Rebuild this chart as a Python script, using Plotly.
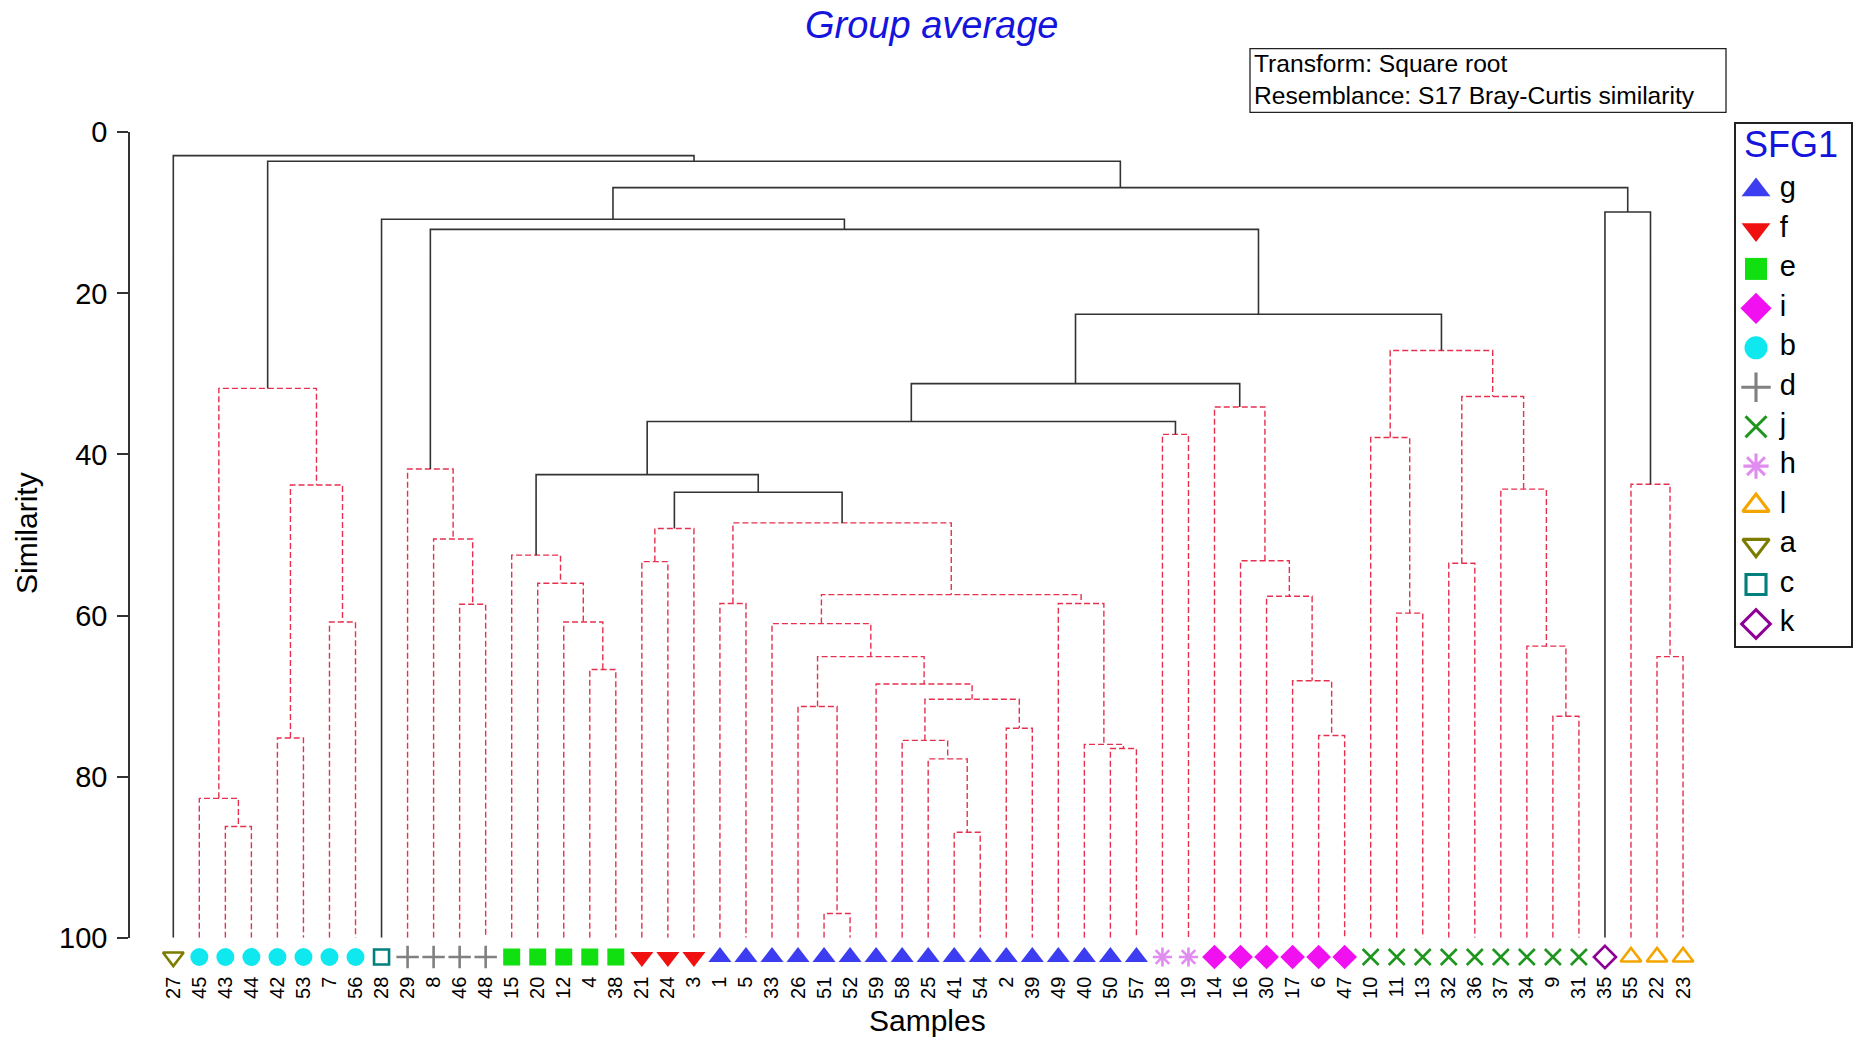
import plotly.graph_objects as go

# ---------------- data ----------------
SAMPLES = ["27", "45", "43", "44", "42", "53", "7", "56", "28", "29", "8", "46", "48",
           "15", "20", "12", "4", "38", "21", "24", "3", "1", "5", "33", "26", "51", "52",
           "59", "58", "25", "41", "54", "2", "39", "49", "40", "50", "57", "18", "19",
           "14", "16", "30", "17", "6", "47", "10", "11", "13", "32", "36", "37", "34",
           "9", "31", "35", "55", "22", "23"]
SAMPLE_GROUPS = ["a", "b", "b", "b", "b", "b", "b", "b", "c", "d", "d", "d", "d",
                 "e", "e", "e", "e", "e", "f", "f", "f", "g", "g", "g", "g", "g", "g",
                 "g", "g", "g", "g", "g", "g", "g", "g", "g", "g", "g", "h", "h",
                 "i", "i", "i", "i", "i", "i", "j", "j", "j", "j", "j", "j", "j",
                 "j", "j", "k", "l", "l", "l"]

# merges: (left child, right child, similarity); "nK" refers to the K-th merge
MERGES = [
    ("43", "44", 86.2), ("45", "n0", 82.7), ("42", "53", 75.2), ("7", "56", 60.8),
    ("n2", "n3", 43.8), ("n1", "n4", 31.8),                                   # b
    ("46", "48", 58.6), ("8", "n6", 50.5), ("29", "n7", 41.8),                # d
    ("4", "38", 66.7), ("12", "n9", 60.8), ("20", "n10", 56.0), ("15", "n11", 52.5),  # e
    ("21", "24", 53.3), ("n13", "3", 49.2),                                   # f
    ("1", "5", 58.5), ("51", "52", 97.0), ("26", "n16", 71.3), ("41", "54", 86.9),
    ("25", "n18", 77.8), ("58", "n19", 75.5), ("2", "39", 74.0), ("n20", "n21", 70.4),
    ("59", "n22", 68.5), ("n17", "n23", 65.1), ("33", "n24", 61.0), ("50", "57", 76.5),
    ("40", "n26", 76.0), ("49", "n27", 58.5), ("n25", "n28", 57.4), ("n15", "n29", 48.5),  # g
    ("18", "19", 37.5),                                                       # h
    ("6", "47", 74.9), ("17", "n32", 68.1), ("30", "n33", 57.6), ("16", "n34", 53.2),
    ("14", "n35", 34.1),                                                      # i
    ("11", "13", 59.7), ("10", "n37", 37.9), ("32", "36", 53.5), ("9", "31", 72.5),
    ("34", "n40", 63.8), ("37", "n41", 44.3), ("n39", "n42", 32.8), ("n38", "n43", 27.1),  # j
    ("22", "23", 65.1), ("55", "n45", 43.7),                                  # l
    ("n14", "n30", 44.7), ("n12", "n47", 42.5), ("n48", "n31", 35.9), ("n49", "n36", 31.2),
    ("n50", "n44", 22.6), ("n8", "n51", 12.05), ("28", "n52", 10.8), ("35", "n46", 9.9),
    ("n53", "n54", 6.87), ("n5", "n55", 3.6), ("27", "n56", 2.9),
]

LEGEND_ORDER = ["g", "f", "e", "i", "b", "d", "j", "h", "l", "a", "c", "k"]
Y_TICKS = [0, 20, 40, 60, 80, 100]

# ---------------- styles ----------------
GROUP_STYLE = {
    "g": dict(symbol="triangle-up", color="#3C3CF0", size=20),
    "f": dict(symbol="triangle-down", color="#F01010", size=20),
    "e": dict(symbol="square", color="#10E010", size=17),
    "i": dict(symbol="diamond", color="#F010F0", size=19),
    "b": dict(symbol="circle", color="#10E8F0", size=18),
    "d": dict(symbol="cross-thin", color="#808080", size=16),
    "j": dict(symbol="x-thin", color="#1E961E", size=16),
    "h": dict(symbol="asterisk", color="#E08CF0", size=16),
    "l": dict(symbol="triangle-up-open", color="#F5A500", size=18),
    "a": dict(symbol="triangle-down-open", color="#7C7C00", size=18),
    "c": dict(symbol="square-open", color="#00807C", size=15),
    "k": dict(symbol="diamond-open", color="#8C0096", size=17),
}
FONT = "Liberation Sans, Arial, sans-serif"
W, H = 1859, 1040
SIG_COLOR, NONSIG_COLOR = "#333333", "#E6304F"

# pixel layout of the dendrogram panel
PL, PR, PT, PB = 130, 1725, 132.3, 937.7
X0_PX, DX_PX = 173.3, 26.03
MARKER_PX = 957


def fx(px):
    return px / W


def fy(py):
    return 1 - py / H


def line_w(symbol):
    return 2.6 if ("open" in symbol or "thin" in symbol or symbol == "asterisk") else 0


# ---------------- build tree geometry ----------------
children, height = {}, {}
for k, (a, b, h) in enumerate(MERGES):
    children[f"n{k}"] = (a, b)
    height[f"n{k}"] = h
root = f"n{len(MERGES) - 1}"

order = []


def walk(n):
    if n in children:
        walk(children[n][0])
        walk(children[n][1])
    else:
        order.append(n)


walk(root)
group_of = dict(zip(SAMPLES, SAMPLE_GROUPS))
xpos = {s: i for i, s in enumerate(order)}
groups = {s: {group_of[s]} for s in order}


def resolve(n):
    if n in xpos:
        return xpos[n]
    a, b = children[n]
    xpos[n] = (resolve(a) + resolve(b)) / 2
    groups[n] = groups[a] | groups[b]
    return xpos[n]


resolve(root)

seg = {True: ([], []), False: ([], [])}
for n, (a, b) in children.items():
    h = height[n]
    ha, hb = height.get(a, 100), height.get(b, 100)
    sig = len(groups[n]) > 1
    xs, ys = seg[sig]
    xs += [xpos[a], xpos[a], xpos[b], xpos[b], None]
    ys += [ha, h, h, hb, None]

fig = go.Figure()
fig.add_trace(go.Scatter(x=seg[False][0], y=seg[False][1], mode="lines",
                         line=dict(color=NONSIG_COLOR, width=1.4, dash="6px,3px"),
                         hoverinfo="skip", showlegend=False))
fig.add_trace(go.Scatter(x=seg[True][0], y=seg[True][1], mode="lines",
                         line=dict(color=SIG_COLOR, width=1.6),
                         hoverinfo="skip", showlegend=False))

# leaf markers (on a thin overlay y-axis just below the tree)
for g in LEGEND_ORDER:
    st = GROUP_STYLE[g]
    names = [s for s in order if group_of[s] == g]
    xs = [xpos[s] for s in names]
    fig.add_trace(go.Scatter(
        x=xs, y=[0] * len(xs), xaxis="x", yaxis="y3", mode="markers", cliponaxis=False,
        marker=dict(symbol=st["symbol"], color=st["color"], size=st["size"],
                    line=dict(color=st["color"], width=line_w(st["symbol"]))),
        name=g, showlegend=False, text=names,
        hovertemplate="%{text}<extra>" + g + "</extra>"))

# manual legend (SFG1)
for i, g in enumerate(LEGEND_ORDER):
    st = GROUP_STYLE[g]
    fig.add_trace(go.Scatter(
        x=[0.174], y=[i], xaxis="x2", yaxis="y2", mode="markers", cliponaxis=False,
        marker=dict(symbol=st["symbol"], color=st["color"], size=st["size"] + 5,
                    line=dict(color=st["color"], width=line_w(st["symbol"]) * 1.2)),
        showlegend=False, hoverinfo="skip"))
fig.add_trace(go.Scatter(
    x=[0.38] * len(LEGEND_ORDER), y=list(range(len(LEGEND_ORDER))), xaxis="x2", yaxis="y2",
    mode="text", text=LEGEND_ORDER, textposition="middle right", cliponaxis=False,
    textfont=dict(family=FONT, size=29, color="black"), showlegend=False, hoverinfo="skip"))

n_leaf = len(order)
x_lo = (PL - X0_PX) / DX_PX
x_hi = (PR - X0_PX) / DX_PX
leg_step = (624 - 190) / 11

fig.update_layout(
    width=W, height=H, autosize=False,
    margin=dict(l=0, r=0, t=0, b=0, pad=0),
    paper_bgcolor="white", plot_bgcolor="white",
    font=dict(family=FONT, color="black"),
    xaxis=dict(domain=[fx(PL), fx(PR)], range=[x_lo, x_hi], showline=False, showgrid=False,
               zeroline=False, ticks="", tickvals=list(range(n_leaf)), ticktext=order,
               tickangle=-90, tickfont=dict(size=20, color="black"), ticklabelstandoff=34,
               anchor="y", automargin=False),
    yaxis=dict(domain=[fy(PB), fy(PT)], range=[100, 0], showline=True, linecolor=SIG_COLOR,
               linewidth=1.6, ticks="outside", ticklen=11, tickwidth=1.6, tickcolor=SIG_COLOR,
               tickvals=Y_TICKS, tickfont=dict(size=29, color="black"), showgrid=False,
               zeroline=False, ticklabelstandoff=4, anchor="x", automargin=False),
    yaxis3=dict(domain=[fy(MARKER_PX + 14), fy(MARKER_PX - 14)], range=[-1, 1],
                visible=False, anchor="x", automargin=False, fixedrange=True),
    xaxis2=dict(domain=[fx(1736), fx(1851)], range=[0, 1], showline=True, mirror=True,
                linecolor="#222", linewidth=1.5, showticklabels=False, ticks="",
                showgrid=False, zeroline=False, anchor="y2", fixedrange=True, automargin=False),
    yaxis2=dict(domain=[fy(645.5), fy(124)], range=[(645.5 - 190) / leg_step, (124 - 190) / leg_step],
                showline=True, mirror=True, linecolor="#222", linewidth=1.5,
                showticklabels=False, ticks="", showgrid=False, zeroline=False,
                anchor="x2", fixedrange=True, automargin=False),
    shapes=[dict(type="rect", xref="paper", yref="paper", x0=fx(1250), x1=fx(1726),
                 y0=fy(112.3), y1=fy(48.7), line=dict(color="#222", width=1.3))],
    annotations=[
        dict(text="<i>Group average</i>", x=fx(932), y=fy(25), xref="paper", yref="paper",
             xanchor="center", yanchor="middle", showarrow=False,
             font=dict(size=38, color="#1414DC")),
        dict(text="Transform: Square root<br>Resemblance: S17 Bray-Curtis similarity",
             x=fx(1252), y=fy(80), xref="paper", yref="paper", xanchor="left",
             yanchor="middle", align="left", showarrow=False, font=dict(size=24.6)),
        dict(text="SFG1", x=fx(1742), y=fy(145), xref="paper", yref="paper", xanchor="left",
             yanchor="middle", showarrow=False, font=dict(size=36, color="#1414DC")),
        dict(text="Similarity", x=fx(26), y=fy(533), xref="paper", yref="paper",
             textangle=-90, xanchor="center", yanchor="middle", showarrow=False,
             font=dict(size=30)),
        dict(text="Samples", x=fx(927), y=fy(1020), xref="paper", yref="paper",
             xanchor="center", yanchor="middle", showarrow=False, font=dict(size=30)),
    ],
)

fig.write_html("out.html", config={"displayModeBar": False},
               post_script="document.body.style.margin='0';")
